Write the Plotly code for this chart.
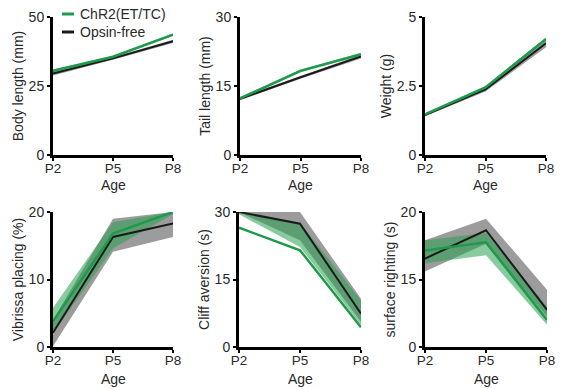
import plotly.graph_objects as go

W, H = 563, 389
ages = [2, 5, 8]
age_labels = ["P2", "P5", "P8"]

body_green = [30.5, 35.6, 43.6]
body_black = [29.5, 35.0, 41.2]
body_green_hi = [31.0, 36.0, 44.0]
body_green_lo = [30.0, 35.2, 43.2]
body_black_hi = [30.2, 35.5, 41.8]
body_black_lo = [28.8, 34.5, 40.6]

tail_green = [12.3, 18.3, 21.9]
tail_black = [12.2, 16.9, 21.4]
tail_green_hi = [12.6, 18.6, 22.2]
tail_green_lo = [12.0, 18.0, 21.6]
tail_black_hi = [12.5, 17.2, 21.8]
tail_black_lo = [11.9, 16.6, 21.0]

weight_green = [1.47, 2.45, 4.2]
weight_black = [1.45, 2.38, 4.05]
weight_green_hi = [1.5, 2.5, 4.25]
weight_green_lo = [1.44, 2.4, 4.15]
weight_black_hi = [1.5, 2.45, 4.15]
weight_black_lo = [1.4, 2.3, 3.9]

vib_green = [3.8, 16.8, 20.0]
vib_black = [2.1, 16.3, 18.3]
vib_green_hi = [5.8, 18.5, 20.0]
vib_green_lo = [2.0, 14.6, 19.7]
vib_black_hi = [4.0, 19.0, 20.0]
vib_black_lo = [0.1, 14.1, 16.3]

cliff_green = [26.5, 21.5, 4.4]
cliff_black = [30.0, 27.4, 7.4]
cliff_green_hi = [30.0, 27.6, 10.4]
cliff_green_lo = [29.5, 22.2, 4.9]
cliff_black_hi = [30.0, 30.0, 10.7]
cliff_black_lo = [30.0, 23.7, 5.6]

surf_green = [14.3, 15.5, 4.0]
surf_black = [13.1, 17.3, 5.5]
surf_green_hi = [15.8, 16.9, 6.0]
surf_green_lo = [12.4, 13.6, 3.3]
surf_black_hi = [15.8, 19.0, 8.5]
surf_black_lo = [11.2, 15.3, 4.5]

panels = [
    dict(title="Body length (mm)", ymax=50, tickvals=[0, 25, 50], ticktext=["0", "25", "50"],
         g=body_green, ghi=body_green_hi, glo=body_green_lo, k=body_black, khi=body_black_hi, klo=body_black_lo),
    dict(title="Tail length (mm)", ymax=30, tickvals=[0, 15, 30], ticktext=["0", "15", "30"],
         g=tail_green, ghi=tail_green_hi, glo=tail_green_lo, k=tail_black, khi=tail_black_hi, klo=tail_black_lo),
    dict(title="Weight (g)", ymax=5, tickvals=[0, 2.5, 5], ticktext=["0", "2.5", "5"],
         g=weight_green, ghi=weight_green_hi, glo=weight_green_lo, k=weight_black, khi=weight_black_hi, klo=weight_black_lo),
    dict(title="Vibrissa placing (%)", ymax=20, tickvals=[0, 10, 20], ticktext=["0", "10", "20"],
         g=vib_green, ghi=vib_green_hi, glo=vib_green_lo, k=vib_black, khi=vib_black_hi, klo=vib_black_lo),
    dict(title="Cliff aversion (s)", ymax=30, tickvals=[0, 15, 30], ticktext=["0", "15", "30"],
         g=cliff_green, ghi=cliff_green_hi, glo=cliff_green_lo, k=cliff_black, khi=cliff_black_hi, klo=cliff_black_lo),
    dict(title="surface righting (s)", ymax=20, tickvals=[0, 10, 20], ticktext=["0", "15", "20"],
         g=surf_green, ghi=surf_green_hi, glo=surf_green_lo, k=surf_black, khi=surf_black_hi, klo=surf_black_lo),
]

boxes = [
    (53, 173, 17, 155), (240, 361, 17, 155), (425, 546, 17, 155),
    (53, 173, 212, 347), (239, 361, 212, 347), (425, 547, 212, 347),
]
age_title_y = [185, 185, 185, 379, 379, 379]

GREEN = "#1e9a4c"
BLACK = "#1a1a1a"
GREY_FILL = "rgba(90,90,90,0.6)"
GREEN_FILL = "rgba(40,160,80,0.55)"
FONT = "Liberation Sans, Arial, sans-serif"
TXT = "#2a2a2a"

fig = go.Figure()
layout = {}
annotations = []
for i, (p, b) in enumerate(zip(panels, boxes)):
    n = "" if i == 0 else str(i + 1)
    xa, ya = "x" + n, "y" + n
    l, r, t, bt = b
    layout["xaxis" + n] = dict(
        domain=[l / W, r / W], anchor=ya, range=[2, 8], tickvals=ages, ticktext=age_labels,
        showline=True, linewidth=3, linecolor="black", ticks="outside", ticklen=3, tickwidth=2,
        tickcolor="black", showgrid=False, zeroline=False, fixedrange=True, automargin=False,
        ticklabelstandoff=-4,
        tickfont=dict(size=13.5, color=TXT, family=FONT),
    )
    layout["yaxis" + n] = dict(
        domain=[1 - bt / H, 1 - t / H], anchor=xa, range=[0, p["ymax"]], tickvals=p["tickvals"],
        ticktext=p["ticktext"], showline=True, linewidth=3, linecolor="black", ticks="outside",
        ticklen=3, tickwidth=2, tickcolor="black", showgrid=False, zeroline=False, fixedrange=True,
        automargin=False,
        tickfont=dict(size=14, color=TXT, family=FONT),
        title=dict(text=p["title"], font=dict(size=14, color=TXT, family=FONT), standoff=2),
    )
    annotations.append(dict(text="Age", xref="paper", yref="paper", x=(l + r) / 2 / W,
                            y=1 - age_title_y[i] / H, xanchor="center", yanchor="middle",
                            showarrow=False, font=dict(size=14, color=TXT, family=FONT)))
    fig.add_trace(go.Scatter(x=ages + ages[::-1], y=p["khi"] + p["klo"][::-1], fill="toself",
                             fillcolor=GREY_FILL, line=dict(width=0), mode="lines",
                             showlegend=False, hoverinfo="skip", xaxis=xa, yaxis=ya))
    fig.add_trace(go.Scatter(x=ages + ages[::-1], y=p["ghi"] + p["glo"][::-1], fill="toself",
                             fillcolor=GREEN_FILL, line=dict(width=0), mode="lines",
                             showlegend=False, hoverinfo="skip", xaxis=xa, yaxis=ya))
    fig.add_trace(go.Scatter(x=ages, y=p["k"], mode="lines", line=dict(color=BLACK, width=2),
                             showlegend=False, xaxis=xa, yaxis=ya))
    fig.add_trace(go.Scatter(x=ages, y=p["g"], mode="lines", line=dict(color=GREEN, width=2.5),
                             showlegend=False, xaxis=xa, yaxis=ya))

legend_items = [("ChR2(ET/TC)", GREEN, 14), ("Opsin-free", BLACK, 32)]
shapes = []
for label, col, yy in legend_items:
    shapes.append(dict(type="line", xref="paper", yref="paper", x0=62 / W, x1=74 / W,
                       y0=1 - yy / H, y1=1 - yy / H, line=dict(color=col, width=3)))
    annotations.append(dict(text=label, xref="paper", yref="paper", x=78 / W, y=1 - yy / H,
                            xanchor="left", yanchor="middle", showarrow=False,
                            font=dict(size=14, color=TXT, family=FONT)))

fig.update_layout(
    width=W, height=H, margin=dict(l=0, r=0, t=0, b=0),
    paper_bgcolor="white", plot_bgcolor="white", showlegend=False,
    shapes=shapes, annotations=annotations, **layout,
)
fig.write_html("out.html", config={"displayModeBar": False},
               post_script="document.body.style.margin='0';document.body.style.overflow='hidden';")
